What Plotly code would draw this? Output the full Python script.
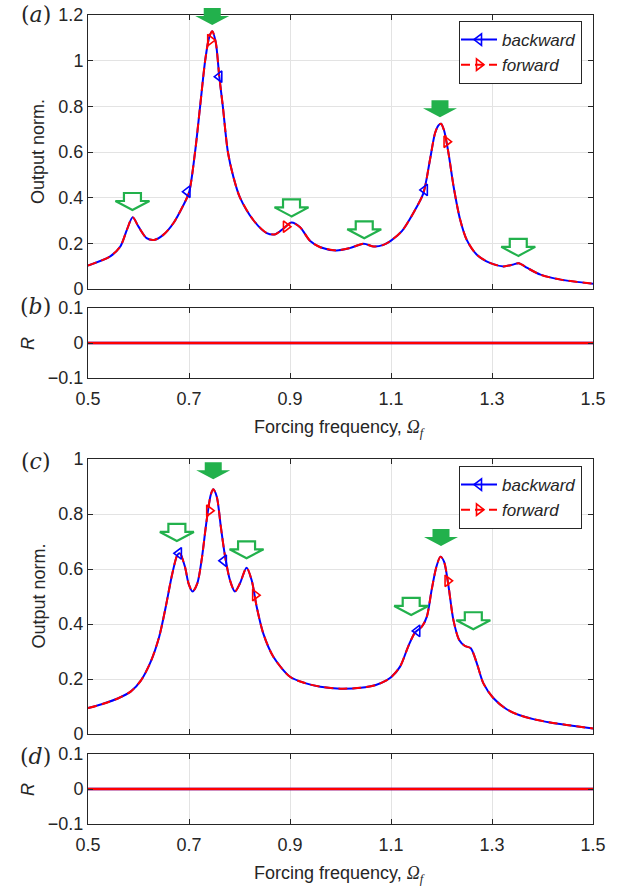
import plotly.graph_objects as go

# ---------------- data ----------------
x_ticks = [0.5, 0.7, 0.9, 1.1, 1.3, 1.5]
x_tick_text = ["0.5", "0.7", "0.9", "1.1", "1.3", "1.5"]
range_a = [0, 1.2]
range_c = [0, 1.0]
range_r = [-0.1, 0.1]

# panel (a): output norm (backward and forward sweeps coincide)
freq_a = [0.500, 0.544, 0.564, 0.577, 0.5885, 0.600, 0.616, 0.631, 0.649, 0.669,
          0.689, 0.700, 0.712, 0.722, 0.732, 0.740, 0.746, 0.753, 0.760, 0.767,
          0.777, 0.788, 0.801, 0.828, 0.854, 0.871, 0.887, 0.903, 0.920, 0.940,
          0.960, 0.992, 1.018, 1.046, 1.066, 1.085, 1.100, 1.122, 1.144, 1.164,
          1.177, 1.187, 1.194, 1.199, 1.205, 1.214, 1.224, 1.237, 1.250, 1.270,
          1.297, 1.323, 1.340, 1.353, 1.370, 1.396, 1.436, 1.500]
norm_a = [0.103, 0.143, 0.186, 0.259, 0.314, 0.273, 0.223, 0.215, 0.237, 0.288,
          0.368, 0.422, 0.600, 0.800, 1.000, 1.103, 1.129, 1.080, 0.930, 0.800,
          0.600, 0.490, 0.400, 0.300, 0.245, 0.240, 0.265, 0.291, 0.270, 0.210,
          0.183, 0.169, 0.179, 0.198, 0.186, 0.193, 0.212, 0.255, 0.332, 0.419,
          0.564, 0.681, 0.717, 0.724, 0.695, 0.593, 0.448, 0.303, 0.215, 0.150,
          0.113, 0.099, 0.106, 0.113, 0.092, 0.063, 0.041, 0.023]

# panel (c)
freq_c = [0.500, 0.530, 0.560, 0.585, 0.605, 0.624, 0.641, 0.654, 0.667, 0.677,
          0.682, 0.692, 0.699, 0.707, 0.7165, 0.725, 0.735, 0.743, 0.748, 0.755,
          0.763, 0.771, 0.781, 0.791, 0.801, 0.814, 0.824, 0.834, 0.847, 0.867,
          0.900, 0.930, 0.960, 1.000, 1.040, 1.070, 1.090, 1.100, 1.118, 1.134,
          1.1475, 1.161, 1.171, 1.1805, 1.190, 1.198, 1.205, 1.214, 1.2235, 1.235,
          1.2465, 1.258, 1.270, 1.283, 1.303, 1.329, 1.355, 1.382, 1.415, 1.448,
          1.500]
norm_c = [0.094, 0.110, 0.130, 0.155, 0.195, 0.262, 0.354, 0.463, 0.584, 0.651,
          0.657, 0.608, 0.548, 0.518, 0.548, 0.633, 0.778, 0.869, 0.890, 0.863,
          0.754, 0.651, 0.560, 0.518, 0.548, 0.605, 0.560, 0.463, 0.366, 0.281,
          0.208, 0.185, 0.172, 0.165, 0.168, 0.178, 0.194, 0.206, 0.245, 0.318,
          0.369, 0.390, 0.427, 0.524, 0.609, 0.645, 0.627, 0.536, 0.415, 0.342,
          0.320, 0.312, 0.257, 0.184, 0.130, 0.090, 0.068, 0.054, 0.042, 0.033,
          0.020]

# R panels (b) and (d)
freq_r = [0.5, 1.5]
r_b = [0.0, 0.0]
r_d = [0.0, 0.0]

# marker positions
bwd_mk_a_x = [0.697, 0.760, 1.167]
bwd_mk_a_y = [0.426, 0.930, 0.434]
fwd_mk_a_x = [0.742, 0.892, 1.210]
fwd_mk_a_y = [1.090, 0.273, 0.645]
bwd_mk_c_x = [0.680, 0.769, 1.152]
bwd_mk_c_y = [0.657, 0.630, 0.375]
fwd_mk_c_x = [0.740, 0.831, 1.212]
fwd_mk_c_y = [0.812, 0.505, 0.557]

# green arrows: tip position and filled/outlined
arrow_a_x = [0.588, 0.746, 0.903, 1.047, 1.197, 1.352]
arrow_a_y = [0.346, 1.156, 0.318, 0.222, 0.752, 0.145]
arrow_a_filled = [False, True, False, False, True, False]
arrow_c_x = [0.676, 0.748, 0.814, 1.140, 1.199, 1.263]
arrow_c_y = [0.702, 0.926, 0.639, 0.433, 0.684, 0.381]
arrow_c_filled = [False, True, False, False, True, False]

# ---------------- styling ----------------
W, H = 629, 892
BLUE = "#0000FF"
RED = "#FF0000"
GREEN = "#22B14C"
AX = "#262626"
GRID = "#e3e3e3"
FONT = "Liberation Sans"
DASH = "9px,5px"
MS = 10


def py(p):
    return 1 - p / H


def px(p):
    return p / W


xdom = [px(88), px(593)]
dom_a = [py(289), py(15)]
dom_b = [py(378), py(308)]
dom_c = [py(734), py(459)]
dom_d = [py(824), py(754)]

fig = go.Figure()


def curve(x, y, xa, ya):
    fig.add_trace(go.Scatter(x=x, y=y, mode="lines", xaxis=xa, yaxis=ya,
                             line=dict(color=BLUE, width=2, shape="spline", smoothing=0.8),
                             showlegend=False, hoverinfo="skip"))
    fig.add_trace(go.Scatter(x=x, y=y, mode="lines", xaxis=xa, yaxis=ya,
                             line=dict(color=RED, width=2, dash=DASH, shape="spline", smoothing=0.8),
                             showlegend=False, hoverinfo="skip"))


def markers(bx, by, fx, fy, xa, ya):
    fig.add_trace(go.Scatter(x=bx, y=by, mode="markers", xaxis=xa, yaxis=ya,
                             marker=dict(symbol="triangle-left-open", size=MS, color=BLUE,
                                         line=dict(width=1.6, color=BLUE)),
                             showlegend=False, hoverinfo="skip"))
    fig.add_trace(go.Scatter(x=fx, y=fy, mode="markers", xaxis=xa, yaxis=ya,
                             marker=dict(symbol="triangle-right-open", size=MS, color=RED,
                                         line=dict(width=1.6, color=RED)),
                             showlegend=False, hoverinfo="skip"))


def legend_entries(xa, ya, legend):
    fig.add_trace(go.Scatter(x=[None], y=[None], mode="lines+markers", xaxis=xa, yaxis=ya,
                             name="backward", legend=legend,
                             line=dict(color=BLUE, width=2),
                             marker=dict(symbol="triangle-left-open", size=MS, color=BLUE,
                                         line=dict(width=1.6, color=BLUE))))
    fig.add_trace(go.Scatter(x=[None], y=[None], mode="lines+markers", xaxis=xa, yaxis=ya,
                             name="forward", legend=legend,
                             line=dict(color=RED, width=2, dash=DASH),
                             marker=dict(symbol="triangle-right-open", size=MS, color=RED,
                                         line=dict(width=1.6, color=RED))))


curve(freq_a, norm_a, "x", "y")
markers(bwd_mk_a_x, bwd_mk_a_y, fwd_mk_a_x, fwd_mk_a_y, "x", "y")
legend_entries("x", "y", "legend")

fig.add_trace(go.Scatter(x=freq_r, y=r_b, mode="lines", xaxis="x2", yaxis="y2",
                         line=dict(color=BLUE, width=2.5), showlegend=False, hoverinfo="skip"))
fig.add_trace(go.Scatter(x=freq_r, y=r_b, mode="lines", xaxis="x2", yaxis="y2",
                         line=dict(color=RED, width=2.5), showlegend=False, hoverinfo="skip"))

curve(freq_c, norm_c, "x3", "y3")
markers(bwd_mk_c_x, bwd_mk_c_y, fwd_mk_c_x, fwd_mk_c_y, "x3", "y3")
legend_entries("x3", "y3", "legend2")

fig.add_trace(go.Scatter(x=freq_r, y=r_d, mode="lines", xaxis="x4", yaxis="y4",
                         line=dict(color=BLUE, width=2.5), showlegend=False, hoverinfo="skip"))
fig.add_trace(go.Scatter(x=freq_r, y=r_d, mode="lines", xaxis="x4", yaxis="y4",
                         line=dict(color=RED, width=2.5), showlegend=False, hoverinfo="skip"))

# arrows: pixel-sized block arrows anchored at (x data, fraction of y axis),
# referenced to the y-axis domain so that they are not clipped at the frame
ARROW_PATH = "M0,0 L-17,9 L-8.5,9 L-8.5,17 L8.5,17 L8.5,9 L17,9 Z"
shapes = []
for xs, ys, fills, xr, yr, rng in [
        (arrow_a_x, arrow_a_y, arrow_a_filled, "x", "y domain", range_a),
        (arrow_c_x, arrow_c_y, arrow_c_filled, "x3", "y3 domain", range_c)]:
    for ax_, ay_, f in zip(xs, ys, fills):
        shapes.append(dict(type="path", xref=xr, yref=yr, xsizemode="pixel", ysizemode="pixel",
                           xanchor=ax_, yanchor=(ay_ - rng[0]) / (rng[1] - rng[0]),
                           path=ARROW_PATH, layer="above",
                           fillcolor=GREEN if f else "white",
                           line=dict(color=GREEN, width=0 if f else 2.2)))

tickfont = dict(family=FONT, size=18, color=AX)


def xaxis(dom, anchor, labels):
    return dict(domain=xdom, anchor=anchor, range=[0.5, 1.5], tickvals=x_ticks,
                ticktext=x_tick_text, showticklabels=labels, tickfont=tickfont,
                ticks="inside", ticklen=5, tickcolor=AX, showline=True, linecolor=AX,
                linewidth=1, mirror="ticks", showgrid=True, gridcolor=GRID, gridwidth=1,
                zeroline=False, fixedrange=True, ticklabelstandoff=4)


def yaxis(dom, anchor, rng, vals):
    return dict(domain=dom, anchor=anchor, range=rng, tickvals=vals, tickfont=tickfont,
                ticks="inside", ticklen=5, tickcolor=AX, showline=True, linecolor=AX,
                linewidth=1, mirror="ticks", showgrid=True, gridcolor=GRID, gridwidth=1,
                zeroline=False, fixedrange=True)


legend_style = dict(font=dict(family=FONT, size=17, color=AX, style="italic"),
                    bgcolor="white", bordercolor=AX, borderwidth=1, itemwidth=36,
                    xanchor="right", yanchor="top", x=px(582), tracegroupgap=0,
                    indentation=-4)

annotations = []


def ann(text, x, y, size=18, angle=0, xanchor="center", family=FONT):
    annotations.append(dict(text=text, x=x, y=y, xref="paper", yref="paper",
                            showarrow=False, textangle=angle, xanchor=xanchor,
                            yanchor="middle", font=dict(family=family, size=size, color=AX)))


ann("Output norm.", px(38), py(152), angle=-90)
ann("Output norm.", px(38), py(596.5), angle=-90)
ann("<i>R</i>", px(28), py(343), angle=-90)
ann("<i>R</i>", px(28), py(789), angle=-90)
xlabel = ("Forcing frequency, <span style='font-family:Liberation Serif'><i>Ω</i>"
          "<sub><i>f</i></sub></span>")
ann(xlabel, px(339), py(428))
ann(xlabel, px(339), py(874))
for lab, yy in [("a", 15), ("b", 306), ("c", 461), ("d", 756)]:
    ann("(<i>%s</i>)" % lab, px(53), py(yy), size=22, xanchor="right", family="DejaVu Serif")

fig.update_layout(
    width=W, height=H, margin=dict(l=0, r=0, t=0, b=0, autoexpand=False),
    paper_bgcolor="white", plot_bgcolor="white",
    xaxis=xaxis(xdom, "y", False),
    yaxis=yaxis(dom_a, "x", range_a, [0, 0.2, 0.4, 0.6, 0.8, 1.0, 1.2]),
    xaxis2=xaxis(xdom, "y2", True),
    yaxis2=yaxis(dom_b, "x2", range_r, [-0.1, 0, 0.1]),
    xaxis3=xaxis(xdom, "y3", False),
    yaxis3=yaxis(dom_c, "x3", range_c, [0, 0.2, 0.4, 0.6, 0.8, 1.0]),
    xaxis4=xaxis(xdom, "y4", True),
    yaxis4=yaxis(dom_d, "x4", range_r, [-0.1, 0, 0.1]),
    legend=dict(legend_style, y=py(21)),
    legend2=dict(legend_style, y=py(466)),
    shapes=shapes, annotations=annotations,
    showlegend=True,
)

fig.write_html("out.html",
               post_script="document.body.style.margin='0';document.body.style.overflow='hidden';")
